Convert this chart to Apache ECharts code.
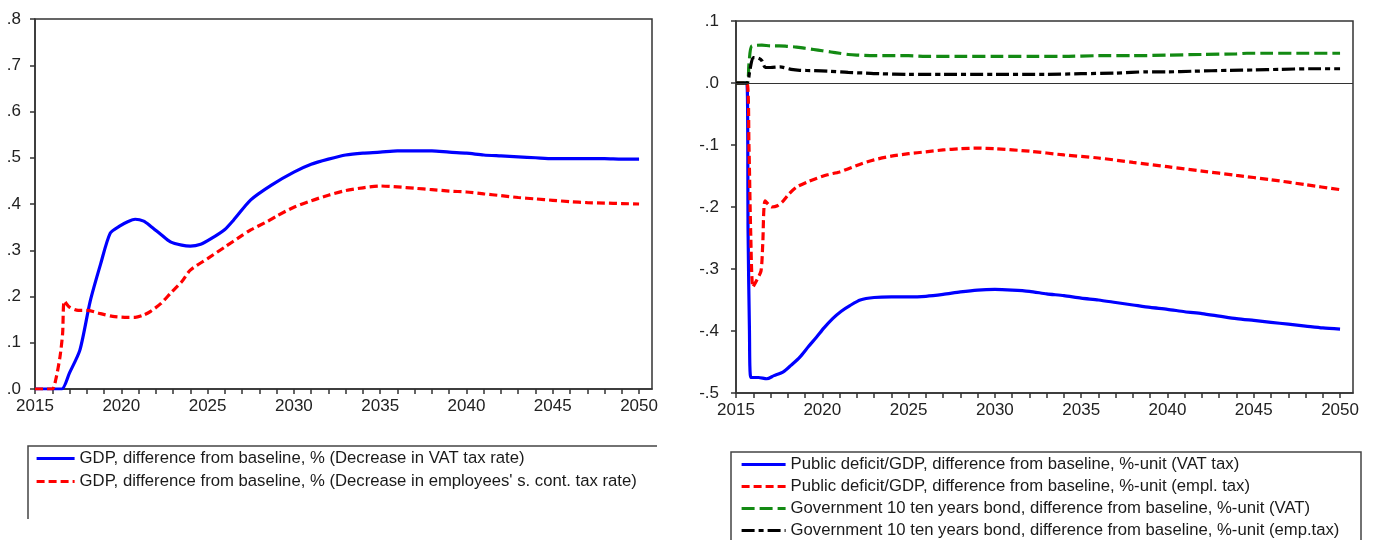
<!DOCTYPE html>
<html>
<head>
<meta charset="utf-8">
<title>GDP and public deficit</title>
<script src="https://cdn.jsdelivr.net/npm/echarts@6/dist/echarts.min.js"></script>
<style>
    html, body { margin: 0; padding: 0; background: #fff; }
    #main { width: 1376px; height: 540px; }
</style>
</head>
<body>
<div id="main"></div>
<script>
// ---- data ----
// left panel: GDP, difference from baseline, %
var gdpVatYears = [2015, 2016, 2016.55, 2017, 2017.6, 2018.2, 2018.8, 2019.36, 2019.9, 2020.4, 2020.8, 2021.3, 2021.7, 2022.3, 2022.85, 2023.5, 2024, 2024.6, 2025.2, 2026, 2026.5, 2027.5, 2028.7, 2030, 2031, 2032, 2033, 2034, 2035, 2036, 2037, 2038, 2039, 2040, 2041, 2042, 2043, 2044, 2045, 2046, 2047, 2048, 2049, 2050];
var gdpVatVals = [0, 0, 0, 0.035, 0.084, 0.19, 0.27, 0.337, 0.352, 0.362, 0.367, 0.363, 0.352, 0.334, 0.318, 0.311, 0.309, 0.313, 0.325, 0.345, 0.365, 0.409, 0.441, 0.469, 0.486, 0.497, 0.506, 0.510, 0.512, 0.515, 0.515, 0.515, 0.512, 0.510, 0.506, 0.504, 0.502, 0.500, 0.498, 0.498, 0.498, 0.498, 0.497, 0.497];
var gdpEmpYears = [2015, 2016, 2016.2, 2016.45, 2016.6, 2016.7, 2017, 2017.5, 2018, 2018.8, 2019.5, 2020.2, 2020.8, 2021.3, 2021.7, 2022.3, 2022.85, 2023.5, 2024, 2025, 2026, 2027, 2027.5, 2028.5, 2029, 2030, 2031, 2032, 2033, 2034, 2035, 2036, 2037, 2038, 2039, 2040, 2041, 2042, 2043, 2044, 2045, 2046, 2047, 2048, 2049, 2050];
var gdpEmpVals = [0, 0, 0.02, 0.07, 0.12, 0.19, 0.177, 0.17, 0.17, 0.163, 0.157, 0.155, 0.155, 0.16, 0.168, 0.185, 0.207, 0.232, 0.257, 0.282, 0.307, 0.332, 0.344, 0.363, 0.374, 0.393, 0.407, 0.419, 0.429, 0.435, 0.439, 0.437, 0.434, 0.431, 0.428, 0.426, 0.422, 0.418, 0.414, 0.411, 0.408, 0.405, 0.403, 0.402, 0.401, 0.400];

// right panel: public deficit/GDP and 10y bond, difference from baseline, %-unit
var defVatYears = [2015, 2015.63, 2015.7, 2015.78, 2015.86, 2016.3, 2016.78, 2017.2, 2017.74, 2018.2, 2018.7, 2019.2, 2019.66, 2020.1, 2020.6, 2021.1, 2021.6, 2022.2, 2023, 2024, 2025, 2026, 2027, 2028, 2029, 2030, 2031, 2032, 2033, 2034, 2035, 2036, 2037, 2038, 2039, 2040, 2041, 2042, 2043, 2044, 2045, 2046, 2047, 2048, 2049, 2050];
var defVatVals = [0, 0, -0.24, -0.4, -0.475, -0.475, -0.477, -0.472, -0.466, -0.455, -0.442, -0.425, -0.41, -0.395, -0.38, -0.368, -0.359, -0.35, -0.346, -0.345, -0.345, -0.344, -0.341, -0.337, -0.334, -0.333, -0.334, -0.336, -0.34, -0.343, -0.347, -0.35, -0.354, -0.358, -0.362, -0.365, -0.369, -0.372, -0.376, -0.38, -0.383, -0.386, -0.389, -0.392, -0.395, -0.397];
var defEmpYears = [2015, 2015.63, 2015.75, 2015.85, 2015.98, 2016.2, 2016.45, 2016.55, 2016.69, 2017.07, 2017.4, 2017.74, 2018.1, 2018.5, 2019.1, 2019.66, 2020.3, 2021, 2022.2, 2023, 2024, 2025, 2026, 2027, 2028, 2029, 2030, 2032, 2034, 2036, 2038, 2040, 2042, 2044, 2046, 2048, 2050];
var defEmpVals = [0, 0, -0.1, -0.24, -0.329, -0.318, -0.303, -0.26, -0.19, -0.2, -0.198, -0.19, -0.178, -0.168, -0.16, -0.154, -0.148, -0.1435, -0.131, -0.124, -0.118, -0.114, -0.111, -0.108, -0.106, -0.105, -0.106, -0.110, -0.116, -0.121, -0.128, -0.135, -0.142, -0.149, -0.156, -0.164, -0.172];
var bondVatYears = [2015, 2015.63, 2015.75, 2015.92, 2016.5, 2017, 2017.5, 2018, 2018.5, 2019, 2019.5, 2020, 2020.5, 2021, 2021.5, 2022, 2023, 2024, 2025, 2026, 2028, 2030, 2032, 2034, 2036, 2038, 2040, 2042, 2044, 2044.6, 2046, 2048, 2050];
var bondVatVals = [0, 0, 0.03, 0.06, 0.061, 0.06, 0.06, 0.059, 0.058, 0.056, 0.054, 0.052, 0.05, 0.048, 0.046, 0.045, 0.044, 0.044, 0.044, 0.043, 0.043, 0.043, 0.043, 0.043, 0.044, 0.044, 0.045, 0.046, 0.047, 0.048, 0.048, 0.048, 0.048];
var bondEmpYears = [2015, 2015.63, 2015.8, 2016, 2016.3, 2016.5, 2016.7, 2017, 2017.55, 2018.2, 2018.7, 2019.5, 2020.4, 2021.5, 2022.5, 2023.3, 2025, 2027, 2030, 2033, 2035, 2037, 2038.8, 2040, 2041.5, 2043.6, 2045, 2046.5, 2048.2, 2050];
var bondEmpVals = [0, 0, 0.02, 0.041, 0.04, 0.036, 0.025, 0.025, 0.026, 0.022, 0.0205, 0.02, 0.019, 0.017, 0.016, 0.015, 0.014, 0.014, 0.014, 0.014, 0.015, 0.016, 0.018, 0.018, 0.019, 0.0205, 0.021, 0.022, 0.023, 0.023];

// axis ticks
var yearTicks = [];
for (var y = 2015; y <= 2050; y++) yearTicks.push(y);
var yearLabels = [2015, 2020, 2025, 2030, 2035, 2040, 2045, 2050];

var names = [
    'GDP, difference from baseline, % (Decrease in VAT tax rate)',
    'GDP, difference from baseline, % (Decrease in employees\' s. cont. tax rate)',
    'Public deficit/GDP, difference from baseline, %-unit (VAT tax)',
    'Public deficit/GDP, difference from baseline, %-unit (empl. tax)',
    'Government 10 ten years bond, difference from baseline, %-unit (VAT)',
    'Government 10 ten years bond, difference from baseline, %-unit (emp.tax)'
];

var font = "'Liberation Sans', Arial, sans-serif";
var chart = echarts.init(document.getElementById('main'));

function pairs(xs, ys) {
    var out = [];
    for (var i = 0; i < xs.length; i++) out.push([xs[i], ys[i]]);
    return out;
}
//.8 / -.1 style labels
function shortNum(v) {
    var s = (Math.round(v * 10) / 10).toFixed(1);
    return s.replace('0.', '.');
}
function xAxisOf(idx) {
    return {
        type: 'value',
        gridIndex: idx,
        min: 2015,
        max: 2050.75,
        axisLine: { onZero: false, lineStyle: { color: '#333', width: 1.5 } },
        axisTick: { length: 5, customValues: yearTicks, lineStyle: { color: '#333', width: 1.5 } },
        axisLabel: {
            customValues: yearLabels, margin: 9,
            color: '#222', fontSize: 17, fontFamily: font,
            formatter: function (v) { return String(Math.round(v)); }
        },
        splitLine: { show: false }
    };
}
function yAxisOf(idx, mn, mx, margin) {
    return {
        type: 'value',
        gridIndex: idx,
        min: mn,
        max: mx,
        interval: 0.1,
        axisLine: { show: true, lineStyle: { color: '#333', width: 1.5 } },
        axisTick: { show: true, length: 5, lineStyle: { color: '#333', width: 1.5 } },
        axisLabel: {
            margin: margin, color: '#222', fontSize: 17, fontFamily: font,
            formatter: shortNum
        },
        splitLine: { show: false }
    };
}
function lineOf(name, xi, data, color, dash) {
    return {
        name: name,
        type: 'line',
        xAxisIndex: xi,
        yAxisIndex: xi,
        data: data,
        symbol: 'none',
        smooth: 0.25,
        animation: false,
        lineStyle: { color: color, width: 3.2, type: dash },
        itemStyle: { color: color }
    };
}
function legendOf(list, left, top, iw, gap) {
    return {
        data: list,
        orient: 'vertical',
        left: left,
        top: top,
        padding: 0,
        itemWidth: iw,
        itemHeight: 16,
        itemGap: gap,
        itemStyle: { opacity: 0 },
        lineStyle: { width: 3.2 },
        textStyle: { color: '#1a1a1a', fontSize: 16.7, fontFamily: font }
    };
}

var option = {
    animation: false,
    grid: [
        { left: 35, top: 19, width: 617, height: 370, show: true, borderColor: '#333', borderWidth: 1.5 },
        { left: 736, top: 21, width: 617, height: 372, show: true, borderColor: '#333', borderWidth: 1.5 }
    ],
    xAxis: [xAxisOf(0), xAxisOf(1)],
    yAxis: [yAxisOf(0, 0, 0.8, 14), yAxisOf(1, -0.5, 0.1, 17)],
    legend: [
        legendOf([names[0], names[1]], 35, 450, 38, 6),
        legendOf([names[2], names[3], names[4], names[5]], 740, 456, 44, 5)
    ],
    // legend frames (cut off by the bottom of the picture)
    graphic: [
        { type: 'polyline', shape: { points: [[28, 519], [28, 446], [657, 446]] }, style: { stroke: '#444', lineWidth: 1.5, fill: null } },
        { type: 'polyline', shape: { points: [[731, 545], [731, 452], [1361, 452], [1361, 545]] }, style: { stroke: '#444', lineWidth: 1.5, fill: null } }
    ],
    series: [
        lineOf(names[0], 0, pairs(gdpVatYears, gdpVatVals), '#0000ff', 'solid'),
        lineOf(names[1], 0, pairs(gdpEmpYears, gdpEmpVals), '#ff0000', [8, 4]),
        lineOf(names[2], 1, pairs(defVatYears, defVatVals), '#0000ff', 'solid'),
        lineOf(names[3], 1, pairs(defEmpYears, defEmpVals), '#ff0000', [8, 4]),
        lineOf(names[4], 1, pairs(bondVatYears, bondVatVals), '#138a13', [13, 5]),
        lineOf(names[5], 1, pairs(bondEmpYears, bondEmpVals), '#000000', [13, 4, 5, 4])
    ]
};
// zero line on the right panel
option.series[2].markLine = {
    silent: true,
    symbol: ['none', 'none'],
    label: { show: false },
    lineStyle: { color: '#333', width: 1.2, type: 'solid' },
    data: [{ yAxis: 0 }]
};
chart.setOption(option);
</script>
</body>
</html>
